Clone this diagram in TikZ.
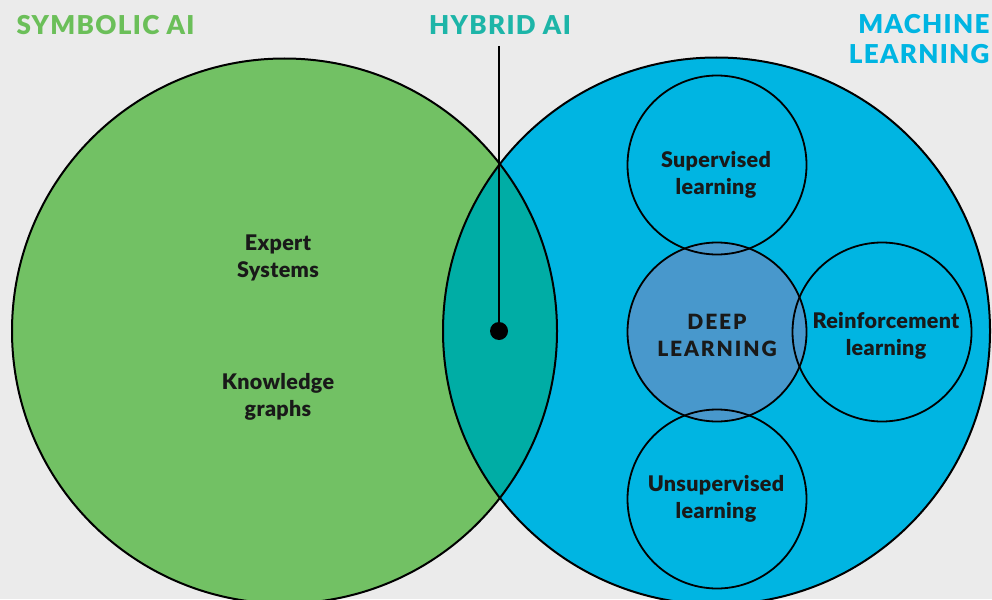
\documentclass[tikz,border=0pt]{standalone}
\usepackage{fontspec}
\setmainfont{Lato}[BoldFont={Lato Black}]
\newfontfamily\titlefont{Lato}[BoldFont={Lato Black},LetterSpace=5]
\newfontfamily\deepfont{Lato}[BoldFont={Lato Black},LetterSpace=9]
\newfontfamily\lblfont{Lato}[BoldFont={Lato Black},LetterSpace=1.5]
\definecolor{bg}{HTML}{EBEBEB}
\definecolor{symgreen}{HTML}{72C164}
\definecolor{mlblue}{HTML}{00B5E2}
\definecolor{hybridteal}{HTML}{00ADA5}
\definecolor{deepblue}{HTML}{4898CC}
\definecolor{titlegreen}{HTML}{6BBF59}
\definecolor{titleteal}{HTML}{1DB5A8}
\begin{document}
\begin{tikzpicture}[x=1pt,y=-1pt,
  outline/.style={draw=black,line width=2pt},
  small/.style={draw=black,line width=1.8pt},
  lbl/.style={font=\lblfont\bfseries\fontsize{21.5}{26.5}\selectfont,align=center,text=black!90},
  ttl/.style={font=\titlefont\bfseries\fontsize{26}{29.5}\selectfont},
]
\useasboundingbox (0,0) rectangle (992,599);
\fill[bg] (0,0) rectangle (992,599);
% big circles
\fill[symgreen] (284.5,331) circle (272.5);
\fill[mlblue] (716.5,331) circle (273.5);
\begin{scope}
  \clip (284.5,331) circle (272.5);
  \fill[hybridteal] (716.5,331) circle (273.5);
\end{scope}
\draw[outline] (284.5,331) circle (272.5);
\draw[outline] (716.5,331) circle (273.5);
% small circles
\fill[deepblue] (717,332) circle (89.5);
\draw[small] (717,165) circle (89.5);
\draw[small] (717,332) circle (89.5);
\draw[small] (882,332) circle (89.5);
\draw[small] (717,499) circle (89.5);
% labels in circles
\node[lbl] (sup) at (716,175) {Supervised\\learning};
\node[lbl,font=\deepfont\bfseries\fontsize{21}{27}\selectfont] (deep) at (717,335) {DEEP\\LEARNING};
\node[lbl] (rein) at (886,336) {Reinforcement\\learning};
\node[lbl] (unsup) at (716,499) {Unsupervised\\learning};
\node[lbl] (expert) at (278,258) {Expert\\Systems};
\node[lbl] (know) at (278,397) {Knowledge\\graphs};
% titles
\node[ttl,text=titlegreen,anchor=west] (symt) at (13,25) {SYMBOLIC AI};
\node[ttl,text=titleteal] (hybt) at (500,25) {HYBRID AI};
\node[ttl,text=mlblue,anchor=east,align=right] (mlt) at (993,39) {MACHINE\\LEARNING};
% pointer
\coordinate (ptop) at (499,46);
\node[circle,fill=black,inner sep=0pt,minimum size=18pt] (dot) at (499,331) {};
\draw[line width=2pt] (ptop) -- (dot.center);
\end{tikzpicture}
\end{document}
